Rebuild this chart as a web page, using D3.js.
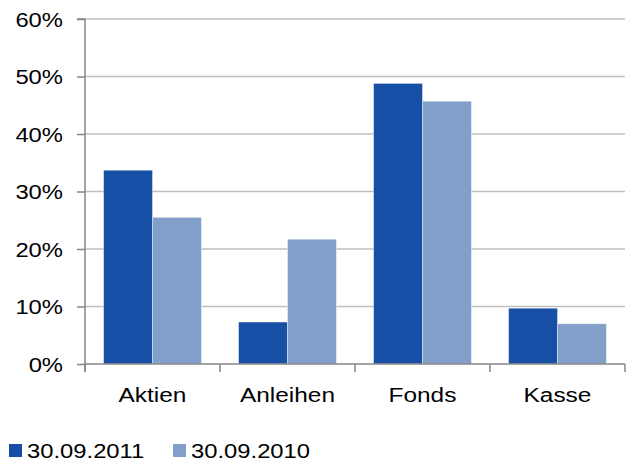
<!DOCTYPE html>
<html><head><meta charset="utf-8">
<script src="https://cdn.jsdelivr.net/npm/d3@7"></script>
<style>body{margin:0;background:#fff}svg{display:block}text{font-family:"Liberation Sans",Arial,sans-serif;fill:#000}</style>
</head><body>
<svg id="c" width="633" height="461"></svg>
<script>
const categories = ["Aktien","Anleihen","Fonds","Kasse"];
const seriesNames = ["30.09.2011","30.09.2010"];
const values2011 = [33.7, 7.3, 48.8, 9.7];
const values2010 = [25.5, 21.7, 45.7, 7.0];
const yTicks = [0,10,20,30,40,50,60];
const colors = ["#174EA6","#829FC9"];

const svg = d3.select("#c");
const m = {l:85, r:8, t:19, b:97};
const W = 633, H = 461;
const x = d3.scaleBand().domain(categories).range([m.l, 625]).paddingInner(0).paddingOuter(0);
const x1 = d3.scaleBand().domain([0,1]).range([0, x.bandwidth()]).paddingInner(0).paddingOuter(0.38);
const y = d3.scaleLinear().domain([0,60]).range([364, 19]);
const STRETCH = 1.22;
function stretch(sel){ sel.each(function(){ const l=this.getComputedTextLength(); this.setAttribute("textLength", l*STRETCH); this.setAttribute("lengthAdjust","spacingAndGlyphs"); }); }

// gridlines
svg.append("g").selectAll("line").data(yTicks.filter(d=>d>0)).join("line")
  .attr("x1", m.l).attr("x2", 625).attr("y1", d=>y(d)).attr("y2", d=>y(d))
  .attr("stroke","#BFBFBF").attr("stroke-width",1.5);

// bars
const data = categories.map((c,i)=>({c, v:[values2011[i], values2010[i]]}));
const g = svg.append("g");
data.forEach(d=>{
  d.v.forEach((v,j)=>{
    g.append("rect").attr("x", x(d.c)+x1(j)).attr("width", x1.bandwidth())
      .attr("y", y(v)).attr("height", y(0)-y(v)).attr("fill", colors[j])
      .attr("stroke","#fff").attr("stroke-opacity",0.5).attr("stroke-width",0.8);
  });
});

// y axis
const yAxis = d3.axisLeft(y).tickValues(yTicks).tickFormat(d=>d+"%").tickSize(8).tickPadding(14);
const ya = svg.append("g").attr("transform",`translate(${m.l},0)`).call(yAxis);
ya.select(".domain").attr("stroke","#868686").attr("stroke-width",1.5).attr("d",`M-8,${y(60)}H0V${y(0)+8}`);
ya.selectAll(".tick line").attr("stroke","#868686").attr("stroke-width",1.5);
ya.selectAll(".tick text").attr("font-size",19.5).attr("fill","#000").attr("dy",null).attr("y",7).call(stretch);

// x axis
const xa = svg.append("g").attr("transform",`translate(0,${y(0)})`);
xa.append("line").attr("x1",m.l).attr("x2",625).attr("y1",0).attr("y2",0).attr("stroke","#868686").attr("stroke-width",1.5);
const bounds = categories.map(c=>x(c)).concat([x(categories[categories.length-1])+x.bandwidth()]);
xa.selectAll(".xt").data(bounds).join("line").attr("x1",d=>d).attr("x2",d=>d).attr("y1",0).attr("y2",8)
  .attr("stroke","#868686").attr("stroke-width",1.5);
xa.selectAll(".xl").data(categories).join("text").attr("x",d=>x(d)+x.bandwidth()/2).attr("y",37.5)
  .attr("text-anchor","middle").attr("font-size",20).text(d=>d).call(stretch);

// legend
const lg = svg.append("g");
const lx = [9, 173];
seriesNames.forEach((s,i)=>{
  lg.append("rect").attr("x",lx[i]).attr("y",444).attr("width",13).attr("height",13).attr("fill",colors[i]);
  lg.append("text").attr("x",lx[i]+18).attr("y",457.5).attr("font-size",19.5).text(s).call(stretch);
});
</script>
</body></html>
